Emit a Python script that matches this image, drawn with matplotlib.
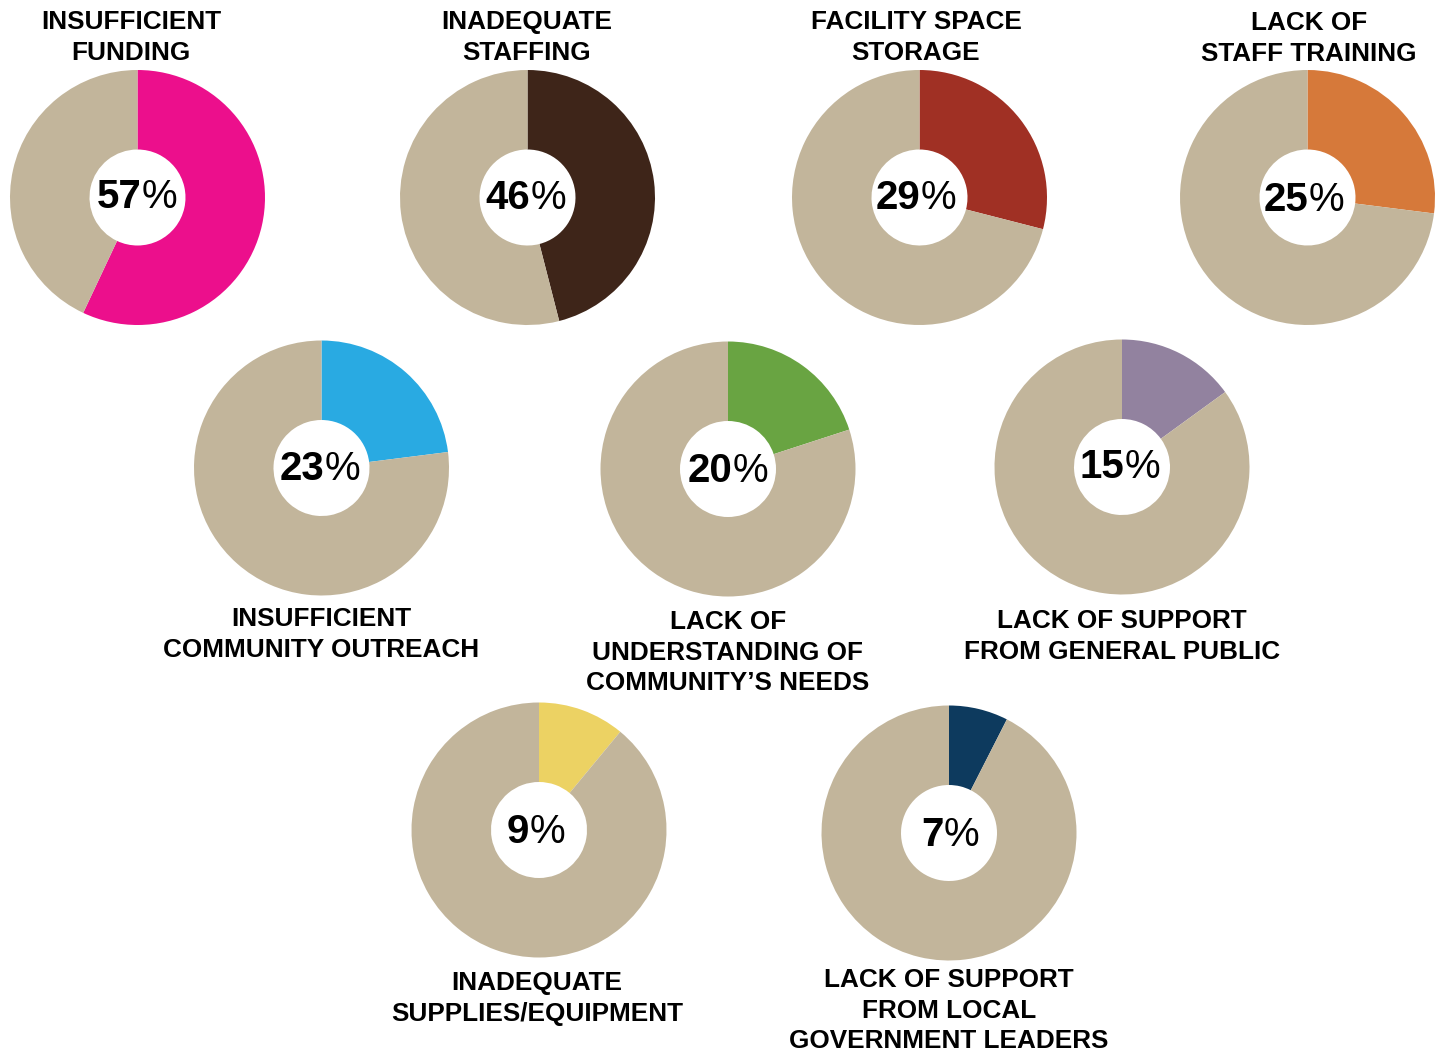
import matplotlib.pyplot as plt

labels = ['INSUFFICIENT\nFUNDING', 'INADEQUATE\nSTAFFING', 'FACILITY SPACE\nSTORAGE',
          'LACK OF\nSTAFF TRAINING', 'INSUFFICIENT\nCOMMUNITY OUTREACH',
          'LACK OF\nUNDERSTANDING OF\nCOMMUNITY\u2019S NEEDS',
          'LACK OF SUPPORT\nFROM GENERAL PUBLIC', 'INADEQUATE\nSUPPLIES/EQUIPMENT',
          'LACK OF SUPPORT\nFROM LOCAL\nGOVERNMENT LEADERS']
values = [57, 46, 29, 25, 23, 20, 15, 9, 7]
# wedge size as actually drawn in the picture (a few differ from the printed %)
drawn_share = [57, 46, 29, 27, 23, 20, 15, 11, 7.5]

colors = ['#EC0F8C', '#3E2519', '#A03024', '#D6793A', '#29AAE2',
          '#69A442', '#92829F', '#ECD263', '#0D3A5E']
rest_color = '#C2B59B'

W, H = 1443, 1053
# pie centres in pixels (x, y from top)
centers = [(137.5, 197.5), (527.5, 197.5), (919.5, 197.5), (1307.5, 197.5),
           (321.5, 468), (728, 469), (1122, 467),
           (539, 830), (949, 833)]
# label anchor: (x, centre y of first line, from top)
label_pos = [(131, 21), (527, 21), (916, 21), (1309, 22),
             (321, 618), (728, 621), (1122, 620),
             (537, 982), (949, 979)]
pct_pos = [(137, 197), (526, 198), (916, 198), (1304, 200),
           (320, 469), (728, 471), (1120, 467),
           (536, 832), (950, 835)]
R, r_hole = 127.5, 48

plt.rcParams['font.family'] = ['Liberation Sans', 'DejaVu Sans']

fig = plt.figure(figsize=(W / 100, H / 100), dpi=100)
ax = fig.add_axes([0, 0, 1, 1])

pct_texts = []
for i, v in enumerate(drawn_share):
    cx, cy = centers[i]
    ax.pie([v, 100 - v], colors=[colors[i], rest_color], startangle=90,
           counterclock=False, center=(cx, H - cy), radius=R,
           wedgeprops=dict(width=R - r_hole, linewidth=0))
    px, py = pct_pos[i]
    t_num = ax.text(px, H - py, f'{values[i]}', ha='right', va='center', fontsize=29,
                    fontweight='bold', color='black')
    t_pct = ax.text(px, H - py, '%', ha='left', va='center', fontsize=29,
                    fontweight='normal', color='black')
    pct_texts.append((t_num, t_pct, px))
    lx, ly = label_pos[i]
    ax.text(lx, H - ly + 11, labels[i], ha='center', va='top', fontsize=18.8,
            fontweight='bold', color='black', linespacing=1.35)

ax.set_xlim(0, W)
ax.set_ylim(0, H)
ax.set_aspect('equal')
ax.axis('off')

# centre number + percent sign together
renderer = fig.canvas.get_renderer()
for t_num, t_pct, px in pct_texts:
    w1 = t_num.get_window_extent(renderer).width
    w2 = t_pct.get_window_extent(renderer).width
    shift = (w1 - w2) / 2
    x0 = px + shift
    t_num.set_x(x0)
    t_pct.set_x(x0)

fig.savefig('out.png', dpi=100, facecolor='white')
